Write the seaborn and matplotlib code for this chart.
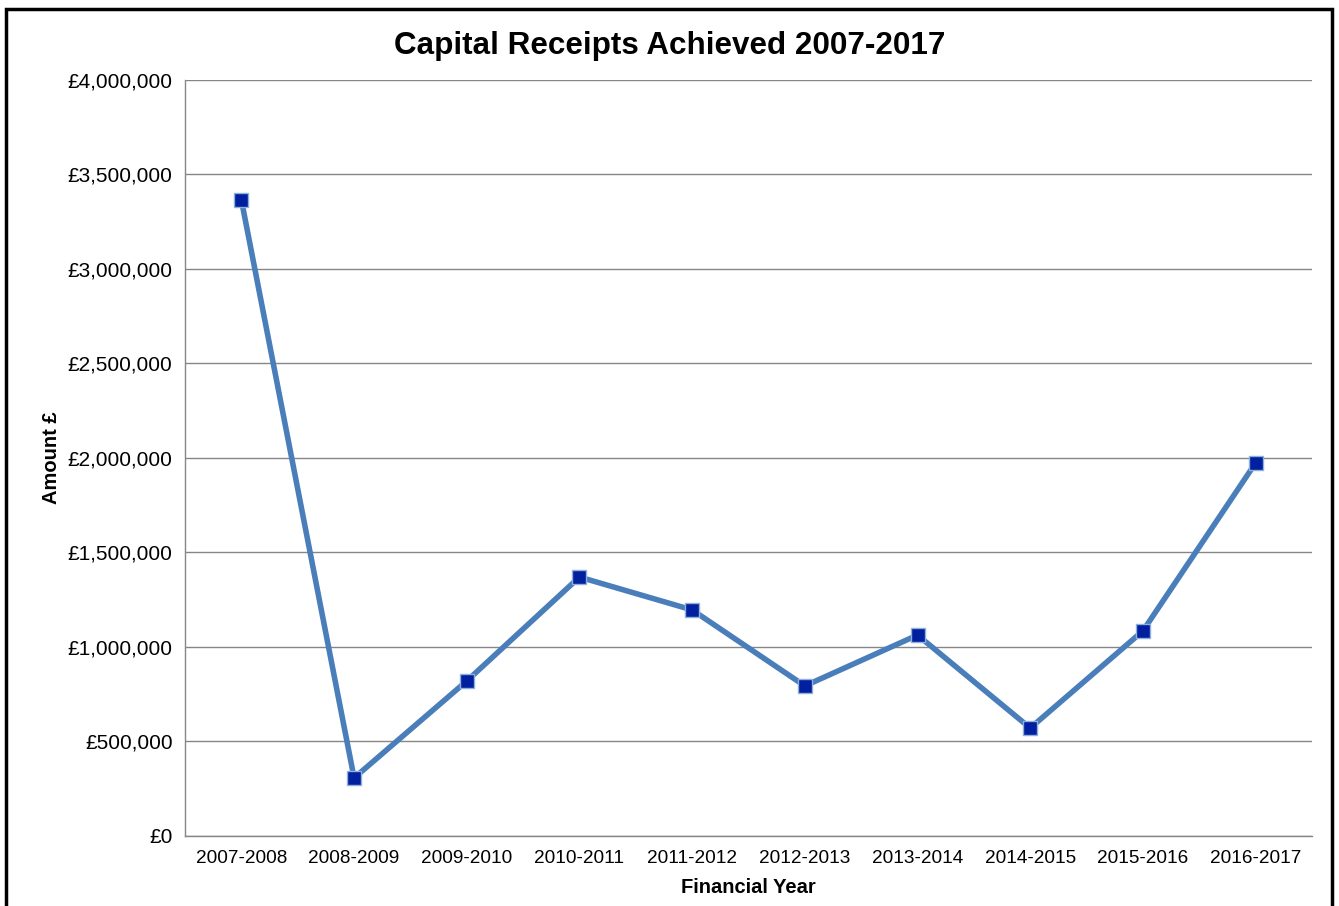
import matplotlib
matplotlib.use("Agg")
import matplotlib.pyplot as plt
import matplotlib.ticker as mticker
import pandas as pd
import seaborn as sns
from matplotlib.patches import Rectangle

years = [
    "2007-2008", "2008-2009", "2009-2010", "2010-2011", "2011-2012",
    "2012-2013", "2013-2014", "2014-2015", "2015-2016", "2016-2017",
]
receipts = [
    3365000, 307000, 820000, 1370000, 1196000,
    794000, 1063000, 571000, 1085000, 1974000,
]

sns.set_theme(style="white")
plt.rcParams["font.family"] = ["Liberation Sans", "DejaVu Sans"]
plt.rcParams["text.color"] = "black"
plt.rcParams["axes.labelcolor"] = "black"

df = pd.DataFrame({"year": years, "amount": receipts})
df["pos"] = range(len(df))

fig = plt.figure(figsize=(13.39, 9.06), dpi=100)
ax = fig.add_axes([0.1382, 0.0773, 0.9798 - 0.1382, 0.9117 - 0.0773])

sns.lineplot(
    data=df, x="pos", y="amount", ax=ax,
    color="#4a7ebb", linewidth=4.0,
    marker="s", markersize=9.5, markerfacecolor="#00209f",
    markeredgecolor="#8fb0dc", markeredgewidth=1.0,
)

ax.set_xlim(-0.5, len(years) - 0.5)
ax.set_ylim(0, 4000000)
ax.yaxis.set_major_locator(mticker.MultipleLocator(500000))
ax.yaxis.set_major_formatter(mticker.FuncFormatter(lambda v, p: f"£{v:,.0f}"))
ax.yaxis.grid(True, color="#868686", linewidth=1.0)
ax.set_axisbelow(True)

ax.set_xticks(range(len(years)))
ax.set_xticklabels(years)
ax.set_xticks([i - 0.5 for i in range(len(years) + 1)], minor=True)
ax.tick_params(axis="x", which="major", length=0, labelsize=13.7, pad=10, colors="black")
ax.tick_params(axis="x", which="minor", length=6, width=1, color="#868686", direction="out")
ax.tick_params(axis="y", which="major", length=6, width=1, color="#868686", direction="out",
               labelsize=15, pad=3, labelcolor="black")

for side in ["top", "right"]:
    ax.spines[side].set_visible(False)
for side in ["left", "bottom"]:
    ax.spines[side].set_color("#868686")
    ax.spines[side].set_linewidth(1.0)

ax.set_xlabel("Financial Year", fontsize=14.5, fontweight="bold", labelpad=8)
ax.set_ylabel("Amount £", fontsize=14.5, fontweight="bold", labelpad=5)
fig.text(0.5, 0.949, "Capital Receipts Achieved 2007-2017",
         ha="center", va="center", fontsize=22.6, fontweight="bold", color="black")

fig.patches.append(Rectangle((6.5 / 1339, -0.05), (1332 - 6.5) / 1339, 1.05 - 9.5 / 906,
                             transform=fig.transFigure, fill=False,
                             edgecolor="black", linewidth=2.5))

fig.savefig("out.png", dpi=100)
